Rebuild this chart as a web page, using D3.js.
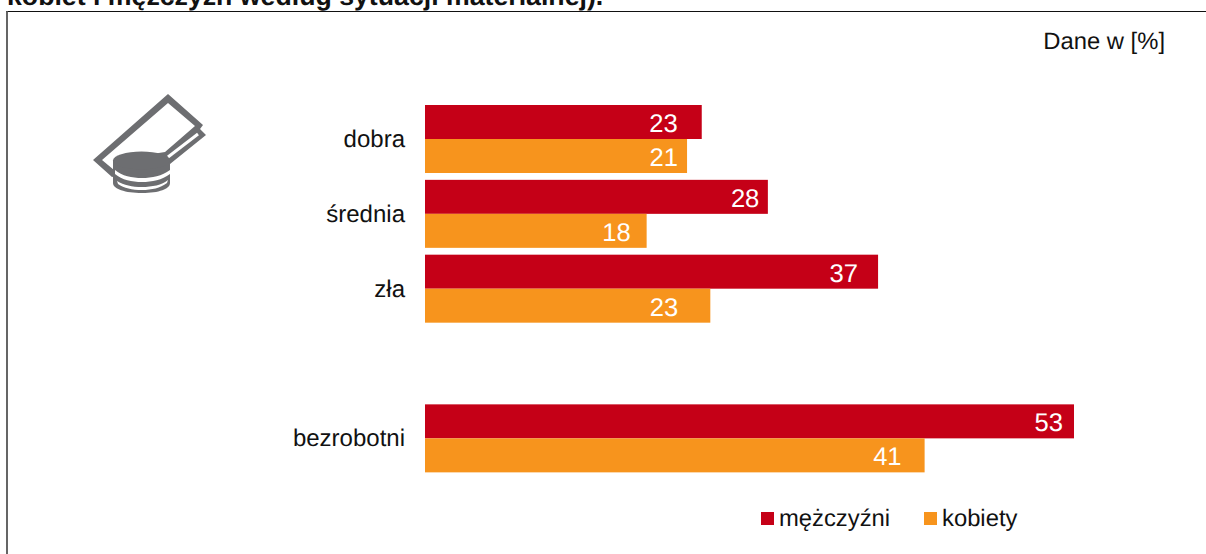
<!DOCTYPE html>
<html><head><meta charset="utf-8">
<script src="https://cdn.jsdelivr.net/npm/d3@7/dist/d3.min.js"></script>
<style>html,body{margin:0;background:#fff;overflow:hidden}svg{display:block}text{font-family:"Liberation Sans",Arial,sans-serif;text-rendering:geometricPrecision}</style>
</head><body><svg id="c" width="1206" height="554"></svg>
<script>
const categories = ["dobra","średnia","zła","","bezrobotni"];
const men   = [22.6, 28.0, 37.0, null, 53.0];
const women = [21.4, 18.1, 23.3, null, 40.8];
const seriesNames = ["mężczyźni","kobiety"];
const seriesColors = ["#c50017","#f7941d"];
const titleTail = "kobiet i mężczyzn według sytuacji materialnej).";
const unitNote = "Dane w [%]";
// distance of each value label from the end of its bar, per series
const labelGaps = [[24,8.5,20,null,11],[9,16,32,null,23]];

const svg = d3.select("#c");
svg.append("text").attr("x",7).attr("y",4.5).attr("font-size",26.7).attr("font-weight","bold").attr("fill","#111").text(titleTail);
svg.append("line").attr("x1",6).attr("x2",1206).attr("y1",11.5).attr("y2",11.5).attr("stroke","#111").attr("stroke-width",1.2);
svg.append("line").attr("x1",7).attr("x2",7).attr("y1",11).attr("y2",554).attr("stroke","#555").attr("stroke-width",1.8);
svg.append("text").attr("x",1165).attr("y",49).attr("text-anchor","end").attr("font-size",23.8).attr("fill","#111").text(unitNote);

const x = d3.scaleLinear().domain([0,53]).range([425,1074]);
const y = d3.scaleBand().domain(categories).range([105,479.2]).paddingInner(0).paddingOuter(0);
const barH = 34;

const axis = d3.axisLeft(y).tickSize(0).tickPadding(20);
const gA = svg.append("g").attr("transform","translate(425,0)").call(axis);
gA.select(".domain").remove();
gA.selectAll("text").attr("font-size",24).attr("fill","#111").attr("font-family","Liberation Sans, Arial, sans-serif")
  .attr("transform","translate(0,-3)");

[men,women].forEach((vals,k)=>{
  const rows = categories.map((c,i)=>({c,v:vals[i],gap:labelGaps[k][i]})).filter(d=>d.v!==null);
  const g = svg.append("g");
  g.selectAll("rect").data(rows).join("rect")
    .attr("x",x(0)).attr("y",d=>y(d.c)+k*barH)
    .attr("width",d=>x(d.v)-x(0)).attr("height",barH).attr("fill",seriesColors[k]);
  g.selectAll("text").data(rows).join("text")
    .attr("x",d=>x(d.v)-d.gap).attr("y",d=>y(d.c)+k*barH+27).attr("text-anchor","end")
    .attr("font-size",25.6).attr("fill","#fff").text(d=>d3.format(".0f")(d.v));
});

const lg = svg.append("g");
const lx = [761,924], ltx=[779,942];
seriesNames.forEach((n,i)=>{
  lg.append("rect").attr("x",lx[i]).attr("y",512).attr("width",13).attr("height",13).attr("fill",seriesColors[i]);
  lg.append("text").attr("x",ltx[i]).attr("y",526).attr("font-size",23.8).attr("fill","#111").text(n);
});

// icon
const gray = "#6d6e71";
const ic = svg.append("g");
ic.append("path").attr("d","M168 94 L203 125 L200 129 L206 135 L170 164 L112 177 L93 160 Z").attr("fill",gray);
ic.append("path").attr("d","M168 103 L195 126 L165 152 L140 156 L114 170 L102 160 Z").attr("fill","#fff");
ic.append("path").attr("d","M198 134 L168 157").attr("stroke","#fff").attr("stroke-width",3).attr("fill","none");
ic.append("path").attr("d","M113 160 V183 C113 189 125 193 142 193 C159 193 170 189 170 183 V160 Z").attr("fill",gray);
ic.append("ellipse").attr("cx",141.5).attr("cy",160.5).attr("rx",28.5).attr("ry",9).attr("fill",gray);
ic.append("path").attr("d","M115 170 C122 176 132 178 142 178 C152 178 162 176 170 170 L170 174 C162 180 152 182 142 182 C132 182 122 180 115 174 Z").attr("fill","#fff");
ic.append("path").attr("d","M117 181 C124 185 132 187 142 187 C152 187 162 185 168 180 L167 183 C160 188 152 190 142 190 C132 190 124 188 118 184 Z").attr("fill","#fff");
</script></body></html>
